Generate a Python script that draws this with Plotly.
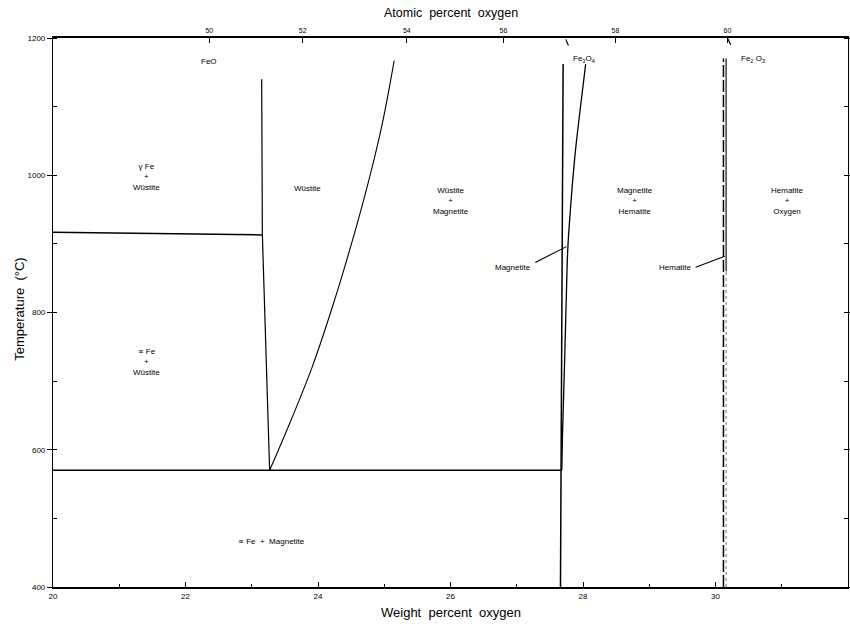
import plotly.graph_objects as go

# ---- data (weight % O, temperature °C) ----
gamma_alpha_w = [20.0, 23.16]
gamma_alpha_T = [917, 913]

wus_left_w = [23.15, 23.16, 23.27]
wus_left_T = [1140, 914, 570]

wus_right_w = [23.27, 23.58, 23.91, 24.23, 24.52, 24.76, 24.97, 25.15]
wus_right_T = [570, 640, 720, 812, 905, 990, 1075, 1167]

eutectoid_w = [20.0, 27.67]
eutectoid_T = [570, 570]

mag_left_w = [27.66, 27.70]
mag_left_T = [400, 1162]

mag_right_w = [27.68, 27.69, 27.72, 27.75, 27.77, 27.81, 27.88, 27.95, 28.04]
mag_right_T = [570, 620, 720, 830, 892, 950, 1030, 1090, 1162]

hem_dash_w = [30.12, 30.12]
hem_dash_T = [400, 1170]
hem_solid_w = [30.16, 30.16]
hem_solid_T = [860, 1170]
hem_dot_w = [30.16, 30.16]
hem_dot_T = [400, 860]

mag_leader_w = [27.28, 27.75]
mag_leader_T = [873, 896]
hem_leader_w = [29.70, 30.14]
hem_leader_T = [866, 882]

top_mark1_w = [27.74, 27.78]
top_mark1_T = [1198, 1189]
top_mark2_w = [30.18, 30.23]
top_mark2_T = [1200, 1190]

# top axis: atomic percent oxygen (positions, in wt%)
atomic_tick_pos = [22.36, 23.77, 25.34, 26.80, 28.49, 30.18]
atomic_tick_text = ["50", "52", "54", "56", "58", "60"]

x_ticks = [20, 22, 24, 26, 28, 30, 32]
y_ticks = [400, 600, 800, 1000, 1200]

# region labels
labels = [
    ("FeO", 22.36, 1166),
    ("γ Fe<br>+<br>Wüstite", 21.41, 997),
    ("∝ Fe<br>+<br>Wüstite", 21.41, 728),
    ("Wüstite", 23.84, 981),
    ("Wüstite<br>+<br>Magnetite", 26.0, 962),
    ("Magnetite<br>+<br>Hematite", 28.79, 962),
    ("Hematite<br>+<br>Oxygen", 31.09, 962),
    ("∝ Fe  +  Magnetite", 23.30, 466),
    ("Magnetite", 26.94, 866),
    ("Hematite", 29.40, 866),
    ("Fe<sub>3</sub>O<sub>4</sub>", 28.01, 1169),
    ("Fe<sub>2</sub> O<sub>3</sub>", 30.56, 1169),
]

FONT = "Liberation Sans"
fig = go.Figure()

def line(xs, ys, width=1.3, dash="solid", color="black", shape="linear"):
    fig.add_trace(go.Scatter(x=xs, y=ys, mode="lines",
                             line=dict(color=color, width=width, dash=dash, shape=shape),
                             hoverinfo="skip", showlegend=False))

line(gamma_alpha_w, gamma_alpha_T, 1.5)
line(wus_left_w, wus_left_T, 1.2)
line(wus_right_w, wus_right_T, 1.1, shape="spline")
line(eutectoid_w, eutectoid_T, 1.5)
line(mag_left_w, mag_left_T, 1.5)
line(mag_right_w, mag_right_T, 1.3, shape="spline")
line(hem_dash_w, hem_dash_T, 1.5, "12px,3px")
line(hem_solid_w, hem_solid_T, 1.1)
line(hem_dot_w, hem_dot_T, 0.8, "dot", "#555")
line(mag_leader_w, mag_leader_T, 1.1)
line(hem_leader_w, hem_leader_T, 1.1)
line(top_mark1_w, top_mark1_T, 1.2)
line(top_mark2_w, top_mark2_T, 1.2)

# dummy trace for top axis
fig.add_trace(go.Scatter(x=[20, 32], y=[400, 400], xaxis="x2", mode="lines",
                         line=dict(width=0), hoverinfo="skip", showlegend=False))

for txt, x, y in labels:
    fig.add_annotation(x=x, y=y, text=txt, showarrow=False,
                       font=dict(family=FONT, size=8, color="black"),
                       xanchor="center", yanchor="middle", align="center")

# axis titles
fig.add_annotation(text="Weight  percent  oxygen", xref="paper", yref="paper",
                   x=0.5, y=0, yshift=-25, showarrow=False,
                   font=dict(family=FONT, size=13, color="black"), yanchor="middle")
fig.add_annotation(text="Atomic  percent  oxygen", xref="paper", yref="paper",
                   x=0.5, y=1, yshift=25, showarrow=False,
                   font=dict(family=FONT, size=12.5, color="black"), yanchor="middle")
fig.add_annotation(text="Temperature  (°C)", xref="paper", yref="paper",
                   x=0, xshift=-33, y=0.505, showarrow=False, textangle=-90,
                   font=dict(family=FONT, size=13, color="black"), xanchor="center", yanchor="middle")

fig.update_layout(
    width=850, height=627,
    margin=dict(l=53, r=2, t=38, b=40, autoexpand=False),
    paper_bgcolor="white", plot_bgcolor="white",
    showlegend=False,
    xaxis=dict(range=[20, 32], tickvals=x_ticks, ticks="inside", ticklen=5,
               tickcolor="black", showline=True, linecolor="black", linewidth=2,
               showgrid=False, zeroline=False, automargin=False,
               tickfont=dict(family=FONT, size=8, color="black"),
               minor=dict(dtick=1, ticks="inside", ticklen=3, tickcolor="black")),
    xaxis2=dict(range=[20, 32], overlaying="x", side="top", tickvals=atomic_tick_pos,
                ticktext=atomic_tick_text, ticks="inside", ticklen=5, tickcolor="black",
                showline=True, linecolor="black", linewidth=1.5, showgrid=False,
                zeroline=False, automargin=False,
                tickfont=dict(family=FONT, size=7, color="black")),
    yaxis=dict(range=[400, 1200], tickvals=y_ticks, ticks="outside", ticklen=5,
               tickcolor="black", showline=True, linecolor="black", linewidth=1.2,
               mirror="ticks", showgrid=False, zeroline=False, automargin=False,
               tickfont=dict(family=FONT, size=8, color="black"),
               minor=dict(dtick=100, ticks="inside", ticklen=4, tickcolor="black")),
)

# remove the browser's default 8px page margin so the figure fills the window exactly
fig.write_html("out.html",
               config={"displayModeBar": False},
               post_script="document.body.style.margin='0';document.body.style.overflow='hidden';")
